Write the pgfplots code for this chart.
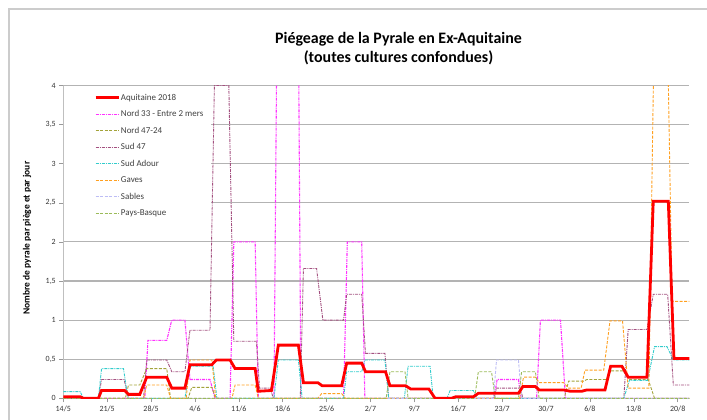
\documentclass[border=0pt]{standalone}
\usepackage{fontspec}
\setmainfont{Carlito}
\usepackage{pgfplots}
\pgfplotsset{compat=1.18}
\definecolor{cRed}{HTML}{FF0000}
\definecolor{cPink}{HTML}{FF33FF}
\definecolor{cOlive}{HTML}{A3A33A}
\definecolor{cMauve}{HTML}{A3507F}
\definecolor{cCyan}{HTML}{33CCCC}
\definecolor{cOrange}{HTML}{FFA020}
\definecolor{cLav}{HTML}{BDBDF5}
\definecolor{cGreen}{HTML}{9BBB59}
\definecolor{cGrid}{HTML}{B3B3B3}
\begin{document}
\begin{tikzpicture}[x=1bp,y=1bp]
\useasboundingbox (0,0) rectangle (707,419);
\draw[color=black!20, line width=1.2bp] (9,-5) -- (9,410) -- (720,410);
\node[font=\fontsize{16}{19}\selectfont\bfseries, align=center] at (398.5,370) {Piégeage de la Pyrale en Ex-Aquitaine\\(toutes cultures confondues)};
\node[rotate=90, font=\fontsize{9.5}{11}\selectfont\bfseries] at (27,181) {Nombre de pyrale par piège et par jour};
\begin{axis}[
  at={(63.3bp,20.7bp)}, anchor=south west, scale only axis,
  width=626bp, height=312.8bp,
  xmin=0, xmax=99.85, ymin=0, ymax=4,
  xtick={0,7,...,98},
  xticklabels={14/5,21/5,28/5,4/6,11/6,18/6,25/6,2/7,9/7,16/7,23/7,30/7,6/8,13/8,20/8},
  ytick={0,0.5,1,1.5,2,2.5,3,3.5,4},
  yticklabels={0,{0,5},1,{1,5},2,{2,5},3,{3,5},4},
  ymajorgrids, grid style={color=cGrid, line width=1.1bp},
  axis x line*=bottom, axis y line*=left,
  axis line style={draw=black!25, line width=1.4bp, -},
  tick style={draw=black!40, line width=0.6bp},
  major tick length=4bp, tick align=outside,
  xticklabel style={font=\fontsize{8}{9}\selectfont, color=black!80},
  yticklabel style={font=\fontsize{8}{9}\selectfont, color=black!80},
  legend style={draw=none, fill=none, at={(axis description cs:0.049,0.979)}, anchor=north west,
    font=\fontsize{9}{10}\selectfont, text=black!75, row sep=5.5bp, inner sep=0pt,
    nodes={inner sep=1bp, text height=7bp, text depth=2bp}},
  legend cell align=left,
  legend image code/.code={\draw[#1] (0bp,0bp) -- (23bp,0bp);},
]
\fill[white] (axis cs:0.12,3.975) rectangle (axis cs:23.55,2.25);

\addlegendimage{cRed, line width=2.8bp}
\addlegendentry{Aquitaine 2018}

\addplot[cPink, line width=1.1bp, dash pattern=on 3bp off 1bp on 1bp off 1bp] coordinates {
(0,0) (13.0,0) (13.5,0.74) (16.5,0.74) (17.3,1.0) (19.4,1.0) (20.2,0.24) (23.4,0.24) (24.2,0)
(26.6,0) (27.2,2.0) (30.6,2.0) (31.1,0) (33.6,0) (34.2,6) (37.4,6) (37.9,0) (44.7,0) (45.3,2.0)
(47.6,2.0) (48.1,0) (68.7,0) (69.2,0.24) (72.6,0.24) (73.0,0) (75.5,0) (76.1,1.0) (79.3,1.0)
(80.1,0) (99.85,0)};
\addlegendentry{Nord 33 - Entre 2 mers}

\addplot[cOlive, line width=0.9bp, dash pattern=on 3bp off 1.5bp] coordinates {
(0,0) (9.9,0) (10.4,0.17) (12.2,0.17) (13.3,0.38) (16.5,0.38) (17.1,0) (19.9,0) (20.5,0.14)
(23.7,0.14) (24.3,0) (79.9,0) (80.6,0.22) (83.0,0.22) (83.5,0.24) (86.6,0.24) (87.3,0.35)
(89.3,0.35) (90.3,0.24) (93.3,0.24) (94.3,0) (99.85,0)};
\addlegendentry{Nord 47-24}

\addplot[cMauve, line width=0.9bp, dash pattern=on 3bp off 1bp on 1bp off 1bp] coordinates {
(0,0) (5.6,0) (6.1,0.24) (9.7,0.24) (10.4,0) (12.8,0) (13.3,0.49) (16.5,0.49) (17.3,0.34)
(19.4,0.34) (20.2,0.87) (23.4,0.87) (24.1,4) (26.4,4) (27.2,0.73) (30.8,0.73) (31.3,0.13)
(33.0,0.13) (33.5,0) (37.8,0) (38.3,1.66) (40.4,1.66) (41.4,1.0) (44.7,1.0) (45.2,1.33)
(47.6,1.33) (48.2,0.575) (51.3,0.575) (51.9,0) (68.7,0) (69.1,0.13) (72.9,0.13) (73.3,0)
(89.4,0) (90.1,0.88) (93.1,0.88) (94.1,1.33) (96.4,1.33) (97.3,0.17) (99.85,0.17)};
\addlegendentry{Sud 47}

\addplot[cCyan, line width=0.9bp, dash pattern=on 3bp off 1bp on 1bp off 1bp] coordinates {
(0,0.085) (2.7,0.085) (3.2,0) (5.6,0) (6.1,0.38) (9.6,0.38) (10.3,0) (19.4,0) (20.2,0.41)
(23.9,0.41) (24.5,0) (33.6,0) (34.3,0.49) (37.5,0.49) (38.1,0) (44.7,0) (45.2,0.34)
(47.6,0.34) (48.1,0.49) (51.3,0.49) (51.9,0) (54.4,0) (55.0,0.41) (58.5,0.41) (59.0,0)
(61.2,0) (61.7,0.1) (65.4,0.1) (66.0,0) (89.4,0) (90.3,0.23) (93.2,0.23) (94.3,0.66)
(96.3,0.66) (97.3,0.49) (99.85,0.49)};
\addlegendentry{Sud Adour}

\addplot[cOrange, line width=0.9bp, dash pattern=on 3bp off 1.5bp] coordinates {
(0,0) (12.8,0) (13.3,0.17) (16.5,0.17) (17.1,0) (19.6,0) (20.2,0.49) (23.7,0.49) (24.3,0)
(26.9,0) (27.4,0.17) (30.6,0.17) (31.1,0) (40.6,0) (41.2,0.06) (44.4,0.06) (45.0,0)
(72.8,0) (73.4,0.27) (75.3,0.27) (75.9,0.2) (79.8,0.2) (80.6,0.13) (82.6,0.13) (83.2,0.36)
(86.2,0.36) (87.2,0.99) (89.2,0.99) (90.1,0.13) (93.4,0.13) (94.3,5) (96.3,5) (97.1,1.24)
(99.85,1.24)};
\addlegendentry{Gaves}

\addplot[cLav, line width=0.9bp, dash pattern=on 3bp off 1.5bp] coordinates {
(0,0) (68.6,0) (69.1,0.49) (72.6,0.49) (73.1,0) (99.85,0)};
\addlegendentry{Sables}

\addplot[cGreen, line width=0.9bp, dash pattern=on 3bp off 1.5bp] coordinates {
(0,0) (51.5,0) (52.1,0.34) (54.5,0.34) (55.0,0) (65.6,0) (66.2,0.34) (68.3,0.34) (68.9,0)
(72.6,0) (73.1,0.34) (75.3,0.34) (75.9,0) (99.85,0)};
\addlegendentry{Pays-Basque}

\addplot[cRed, line width=2.8bp, forget plot] coordinates {
(0,0.02) (2.7,0.02) (3.2,0) (5.6,0) (6.1,0.1) (9.8,0.1) (10.4,0.05) (12.2,0.05) (13.3,0.27)
(16.5,0.27) (17.3,0.13) (19.4,0.13) (20.2,0.43) (23.7,0.43) (24.4,0.49) (26.6,0.49)
(27.4,0.38) (30.6,0.38) (31.1,0.09) (33.2,0.1) (34.3,0.68) (37.5,0.68) (38.3,0.2) (40.6,0.2)
(41.3,0.16) (44.4,0.16) (45.2,0.45) (47.6,0.45) (48.2,0.34) (51.4,0.34) (52.1,0.16)
(54.6,0.16) (55.4,0.12) (58.3,0.12) (59.3,0) (61.9,0) (62.6,0.02) (65.4,0.02) (66.2,0.064)
(72.6,0.064) (73.3,0.15) (75.3,0.15) (75.9,0.107) (79.8,0.107) (80.9,0.09) (82.7,0.09)
(83.5,0.107) (86.4,0.107) (87.3,0.41) (89.1,0.41) (90.1,0.27) (93.1,0.27) (94.1,2.52)
(96.5,2.52) (97.4,0.51) (99.85,0.51)};
\end{axis}
\end{tikzpicture}
\end{document}
